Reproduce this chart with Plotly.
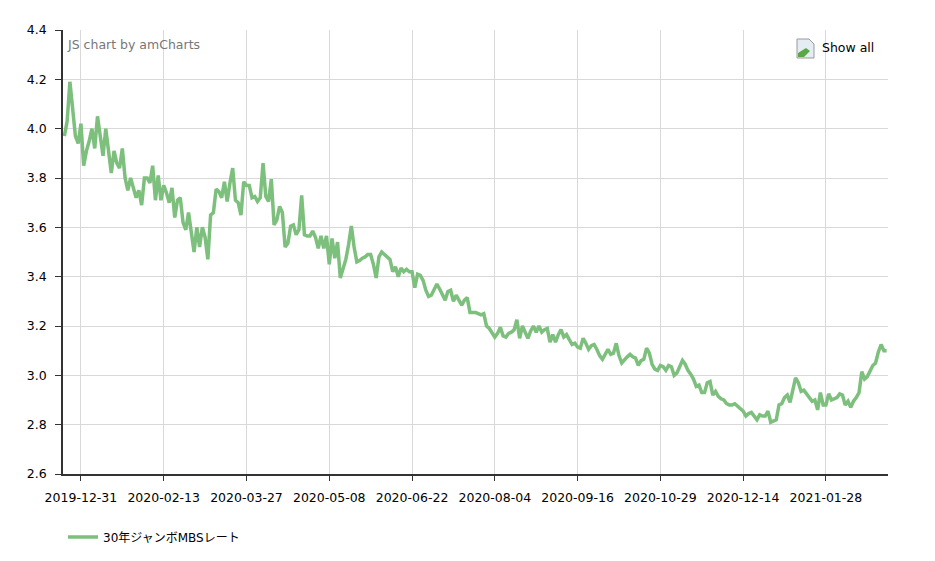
import plotly.graph_objects as go
import pandas as pd

# ---- data (30-year Jumbo MBS rate, business days) ----
rate_dec_feb = [3.97, 4.03, 4.19, 4.09, 3.97, 3.94, 4.02, 3.85, 3.91, 3.95,
                4.00, 3.92, 4.05, 3.97, 3.89, 4.00, 3.91, 3.82, 3.91, 3.86,
                3.84, 3.92, 3.80, 3.75, 3.80, 3.76, 3.72, 3.75, 3.69, 3.80,
                3.80, 3.78, 3.85, 3.71, 3.81, 3.71, 3.77, 3.74, 3.70, 3.76,
                3.64, 3.71, 3.72, 3.62, 3.59, 3.66, 3.58, 3.50]
rate_feb_may = [3.60, 3.52, 3.60, 3.56, 3.47, 3.65, 3.66, 3.755, 3.745, 3.72,
                3.785, 3.705, 3.78, 3.84, 3.71, 3.70, 3.65, 3.785, 3.77, 3.77,
                3.72, 3.725, 3.705, 3.72, 3.86, 3.725, 3.705, 3.795, 3.61, 3.63,
                3.685, 3.66, 3.52, 3.535, 3.605, 3.61, 3.57, 3.59, 3.73, 3.57,
                3.565, 3.565, 3.585, 3.56, 3.515, 3.565, 3.515]
rate_may_jul = [3.565, 3.45, 3.555, 3.475, 3.54, 3.395, 3.43, 3.47, 3.53, 3.605,
                3.52, 3.46, 3.465, 3.475, 3.48, 3.49, 3.49, 3.45, 3.395, 3.48,
                3.50, 3.49, 3.48, 3.47, 3.42, 3.44, 3.40, 3.435, 3.42, 3.43,
                3.42, 3.42, 3.355, 3.41, 3.405, 3.385, 3.345, 3.32, 3.325, 3.35,
                3.37, 3.35, 3.325, 3.305, 3.34, 3.345, 3.30, 3.325]
rate_jul_sep = [3.305, 3.285, 3.305, 3.315, 3.255, 3.255, 3.255, 3.25, 3.245, 3.25,
                3.20, 3.19, 3.17, 3.155, 3.17, 3.195, 3.16, 3.155, 3.17, 3.175,
                3.185, 3.225, 3.15, 3.20, 3.175, 3.15, 3.18, 3.20, 3.175, 3.20,
                3.175, 3.185, 3.19, 3.135, 3.165, 3.135, 3.165, 3.185, 3.155, 3.165,
                3.145, 3.125, 3.13, 3.115, 3.11, 3.15, 3.13, 3.105, 3.12, 3.125,
                3.105, 3.08]
rate_sep_dec = [3.065, 3.085, 3.105, 3.085, 3.09, 3.13, 3.08, 3.05, 3.065, 3.075,
                3.085, 3.075, 3.07, 3.04, 3.06, 3.065, 3.11, 3.09, 3.045, 3.025,
                3.02, 3.04, 3.035, 3.02, 3.04, 3.035, 3.00, 3.01, 3.035, 3.06,
                3.045, 3.02, 3.005, 2.985, 2.955, 2.96, 2.93, 2.93, 2.97, 2.975,
                2.92, 2.935, 2.915, 2.905, 2.90, 2.885, 2.88, 2.88, 2.885]
rate_dec_mar = [2.875, 2.865, 2.855, 2.835, 2.845, 2.85, 2.835, 2.82, 2.84, 2.835,
                2.835, 2.855, 2.81, 2.815, 2.82, 2.88, 2.885, 2.91, 2.92, 2.89,
                2.935, 2.99, 2.97, 2.935, 2.94, 2.925, 2.915, 2.895, 2.90, 2.86,
                2.93, 2.88, 2.88, 2.925, 2.90, 2.905, 2.91, 2.925, 2.92, 2.88,
                2.895, 2.87, 2.895, 2.91, 2.93, 3.015, 2.985, 2.995, 3.02, 3.04,
                3.05, 3.095, 3.125, 3.10, 3.10]

rate = rate_dec_feb + rate_feb_may + rate_may_jul + rate_jul_sep + rate_sep_dec + rate_dec_mar

market_holidays = ["2019-12-25", "2020-01-01", "2020-01-20", "2020-02-17", "2020-05-25",
                   "2020-07-03", "2020-09-07", "2020-10-12", "2020-11-11", "2020-11-26",
                   "2020-12-25", "2021-01-01", "2021-01-18", "2021-02-15"]
dates = pd.bdate_range(start="2019-12-20", periods=len(rate), freq="C",
                       holidays=market_holidays).strftime("%Y-%m-%d").tolist()

tick_labels = ["2019-12-31", "2020-02-13", "2020-03-27", "2020-05-08", "2020-06-22",
               "2020-08-04", "2020-09-16", "2020-10-29", "2020-12-14", "2021-01-28"]

series_name = "30年ジャンボMBSレート"

# ---- layout helpers (page pixels -> paper); page body has an 8px margin ----
OFF = 8
W, H = 935 - OFF, 561 - OFF
L, R, T, B = 63, 888, 30, 474          # plot area in page pixels
def px(x):
    return (x - L) / (R - L)
def py(y):
    return (B - y) / (B - T)
def cx(x):
    return (x - OFF) / W
def cy(y):
    return 1 - (y - OFF) / H

FONT = "DejaVu Sans, Verdana, Noto Sans CJK JP, sans-serif"
GREEN = "#7dbf7d"
TICK_SIZE = 12.5

fig = go.Figure()
fig.add_trace(go.Scatter(
    x=dates, y=rate, mode="lines", name=series_name,
    line=dict(color=GREEN, width=3.5), showlegend=True,
))

fig.update_layout(
    template="none",
    width=W, height=H, autosize=False,
    margin=dict(l=L - OFF, r=W + OFF - R, t=T - OFF, b=H + OFF - B, pad=0),
    paper_bgcolor="white", plot_bgcolor="white",
    font=dict(family=FONT, size=12, color="#000"),
    showlegend=True,
    legend=dict(orientation="h", xref="container", yref="container",
                x=cx(63), xanchor="left", y=cy(537), yanchor="middle",
                font=dict(size=12, color="#000", family=FONT), bgcolor="rgba(0,0,0,0)",
                borderwidth=0, itemwidth=30),
    xaxis=dict(
        type="category", range=[-0.5, len(rate) - 0.5], automargin=False,
        tickmode="array", tickvals=tick_labels, ticktext=tick_labels,
        showgrid=True, gridcolor="#d9d9d9", gridwidth=1,
        showline=True, linecolor="#333", linewidth=1.5,
        ticks="outside", ticklen=5, tickcolor="#333", tickwidth=1,
        ticklabelstandoff=6, tickfont=dict(size=TICK_SIZE, color="#000"),
        zeroline=False,
    ),
    yaxis=dict(
        range=[2.6, 4.4], dtick=0.2, tick0=2.6, tickformat=".1f", automargin=False,
        showgrid=True, gridcolor="#d9d9d9", gridwidth=1,
        showline=True, linecolor="#333", linewidth=1.5,
        ticks="outside", ticklen=6, tickcolor="#333", tickwidth=1,
        ticklabelstandoff=6, tickfont=dict(size=TICK_SIZE, color="#000"),
        zeroline=False,
    ),
    annotations=[
        dict(text="JS chart by amCharts", xref="paper", yref="paper",
             x=px(65), y=py(45), xanchor="left", yanchor="middle", showarrow=False,
             font=dict(size=12.5, color="#777", family=FONT)),
        dict(text="Show all", xref="paper", yref="paper",
             x=px(820), y=py(47), xanchor="left", yanchor="middle", showarrow=False,
             font=dict(size=12.5, color="#000", family=FONT)),
    ],
    shapes=[
        # broken-image style icon of the "Show all" button
        dict(type="path", xref="paper", yref="paper",
             path=(f"M {px(797)},{py(39)} L {px(809)},{py(39)} L {px(814)},{py(44)} "
                   f"L {px(814)},{py(58)} L {px(797)},{py(58)} Z"),
             line=dict(color="#9a9a9a", width=1), fillcolor="#e4ecf4"),
        dict(type="path", xref="paper", yref="paper",
             path=(f"M {px(798)},{py(57)} L {px(798)},{py(53)} L {px(806)},{py(48)} "
                   f"L {px(810)},{py(51)} L {px(804)},{py(57)} Z"),
             line=dict(color="#5aa845", width=0), fillcolor="#5aa845"),
    ],
)

fig.write_html("out.html")
